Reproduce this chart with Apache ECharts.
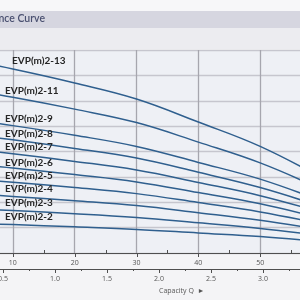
<!DOCTYPE html>
<html><head><meta charset="utf-8">
<script src="https://cdn.jsdelivr.net/npm/echarts@6/dist/echarts.min.js"></script>
<style>html,body{margin:0;padding:0;background:#f4f4f6;}#c{width:300px;height:300px;}</style>
</head><body><div id="c"></div>
<script>
// Capacity in L/min (upper axis) and head per model
const capacityLpm = [0, 10, 20, 30, 40, 50, 60];
const seriesNames = ['EVP(m)2-13','EVP(m)2-11','EVP(m)2-9','EVP(m)2-8','EVP(m)2-7','EVP(m)2-6','EVP(m)2-5','EVP(m)2-4','EVP(m)2-3','EVP(m)2-2'];
const head_2_13 = [77.4, 72.5, 67.0, 60.7, 51.6, 42.0, 29.5];
const head_2_11 = [65.5, 61.4, 56.7, 51.4, 43.7, 35.5, 25.0];
const head_2_9  = [53.6, 50.2, 46.4, 42.0, 35.7, 29.1, 20.4];
const head_2_8  = [47.6, 44.6, 41.2, 37.4, 31.8, 25.8, 18.2];
const head_2_7  = [41.7, 39.1, 36.1, 32.7, 27.8, 22.6, 15.9];
const head_2_6  = [35.7, 33.5, 30.9, 28.0, 23.8, 19.4, 13.6];
const head_2_5  = [29.8, 27.9, 25.8, 23.4, 19.9, 16.2, 11.4];
const head_2_4  = [23.8, 22.3, 20.6, 18.7, 15.9, 12.9, 9.1];
const head_2_3  = [17.9, 16.7, 15.5, 14.0, 11.9, 9.7, 6.8];
const head_2_2  = [11.9, 11.2, 10.3, 9.3, 7.9, 6.5, 4.5];
const heads = [head_2_13, head_2_11, head_2_9, head_2_8, head_2_7, head_2_6, head_2_5, head_2_4, head_2_3, head_2_2];
// axis ticks
const upperTicks = [10, 20, 30, 40, 50];
const upperMinorTicks = [5, 15, 25, 35, 45, 55];
const lowerTicks = ['0.5','1.0','1.5','2.0','2.5','3.0'];
const lowerMinorTicks = [0.25, 0.75, 1.25, 1.75, 2.25, 2.75, 3.25];
const titleText = 'Performance Curve';
const axisName = 'Capacity Q  \u25BA';

const labelPos = [[12,61],[5,91],[5,119],[5,134],[5,147],[5,163],[5,176],[5,189],[5,203],[5,217]];

const W = 300, H = 300;
const GRID_LEFT = -49, GRID_RIGHT = -22, GRID_TOP = 50, GRID_BOTTOM = 47;
const UPPER_MAX = 60, LOWER_MAX = 3.567, LOWER_OFFSET = 16;

const chart = echarts.init(document.getElementById('c'), null, {renderer:'canvas', width:W, height:H});
const series = heads.map((h, i) => ({
  name: seriesNames[i], type: 'line', xAxisIndex: 0, yAxisIndex: 0,
  data: capacityLpm.map((q, j) => [q, h[j]]),
  smooth: 0.4, symbol: 'none',
  lineStyle: {color: '#2f5f8e', width: 1.5},
  silent: true, animation: false
}));

const graphics = [
  {type:'rect', shape:{x:0,y:0,width:300,height:11}, style:{fill:'#f7f7f9'}, z:-10},
  {type:'rect', shape:{x:0,y:11,width:300,height:17}, style:{fill:'#d6d6e0'}, z:-10},
  {type:'rect', shape:{x:0,y:28,width:300,height:21}, style:{fill:'#ececf0'}, z:-10},
  {type:'text', x:45, y:19, style:{text:titleText, textAlign:'right', textVerticalAlign:'middle', font:'600 10.5px Lato', fill:'#4a5070'}},
  {type:'text', x:159, y:291, style:{text:axisName, textVerticalAlign:'middle', font:'7px "Open Sans"', fill:'#555'}}
];
seriesNames.forEach((n, i) => {
  graphics.push({type:'text', x:labelPos[i][0], y:labelPos[i][1], z:100,
    style:{text:n, textVerticalAlign:'middle', font:'bold 10px Lato', fill:'#262626'}});
});

// axis baselines and ticks from the grid's linear mapping
const gridW = W - GRID_LEFT - GRID_RIGHT;
const y0 = H - GRID_BOTTOM;
const y1 = y0 + LOWER_OFFSET;
const axisCol = '#4f4f4f';
const xUp = v => Math.round(GRID_LEFT + v / UPPER_MAX * gridW);
const xLo = v => Math.round(GRID_LEFT + v / LOWER_MAX * gridW);
const lineEl = (x1, ya, x2, yb, w) => ({type:'line', z:60, shape:{x1:x1, y1:ya, x2:x2, y2:yb}, style:{stroke:axisCol, lineWidth:w || 1}});
graphics.push(lineEl(0, y0 + 0.5, W, y0 + 0.5));
graphics.push(lineEl(0, y1 + 0.5, W, y1 + 0.5));
upperTicks.forEach(v => graphics.push(lineEl(xUp(v) + 0.5, y0, xUp(v) + 0.5, y0 + 4)));
upperMinorTicks.forEach(v => graphics.push(lineEl(xUp(v) + 0.5, y0 - 3, xUp(v) + 0.5, y0)));
lowerTicks.forEach(s => graphics.push(lineEl(xLo(parseFloat(s)) + 0.5, y1, xLo(parseFloat(s)) + 0.5, y1 + 4)));
lowerMinorTicks.forEach(v => graphics.push(lineEl(xLo(v) + 0.5, y1, xLo(v) + 0.5, y1 + 2)));

chart.setOption({
  animation: false,
  backgroundColor: '#f4f4f6',
  grid: [
    {left:GRID_LEFT, right:GRID_RIGHT, top:GRID_TOP, bottom:GRID_BOTTOM, show:true, backgroundColor:'#eef0f5', borderWidth:0, outerBoundsMode:'none', containLabel:false}
  ],
  xAxis: [
    {type:'value', gridIndex:0, min:0, max:UPPER_MAX, interval:10, position:'bottom',
     axisLine:{show:false}, axisTick:{show:false},
     axisLabel:{fontSize:7, color:'#555', margin:6, fontFamily:'Open Sans',
       formatter: v => upperTicks.indexOf(v) >= 0 ? String(v) : ''},
     splitLine:{show:true, lineStyle:{color:'#a6a6ae', width:1.3}}},
    {type:'value', gridIndex:0, min:0, max:LOWER_MAX, interval:0.5, position:'bottom', offset:LOWER_OFFSET,
     axisLine:{show:false}, axisTick:{show:false},
     axisLabel:{fontSize:7, color:'#555', margin:6, fontFamily:'Open Sans',
       formatter: v => { const s = v.toFixed(1); return lowerTicks.indexOf(s) >= 0 ? s : ''; }},
     splitLine:{show:false}}
  ],
  yAxis: [
    {type:'value', gridIndex:0, min:0, max:80, interval:10,
     axisLine:{show:false}, axisTick:{show:false}, axisLabel:{show:false},
     splitLine:{show:true, lineStyle:{color:'#c6c6ce', width:1.3}}}
  ],
  series: series,
  graphic: {elements: graphics}
});
</script></body></html>
